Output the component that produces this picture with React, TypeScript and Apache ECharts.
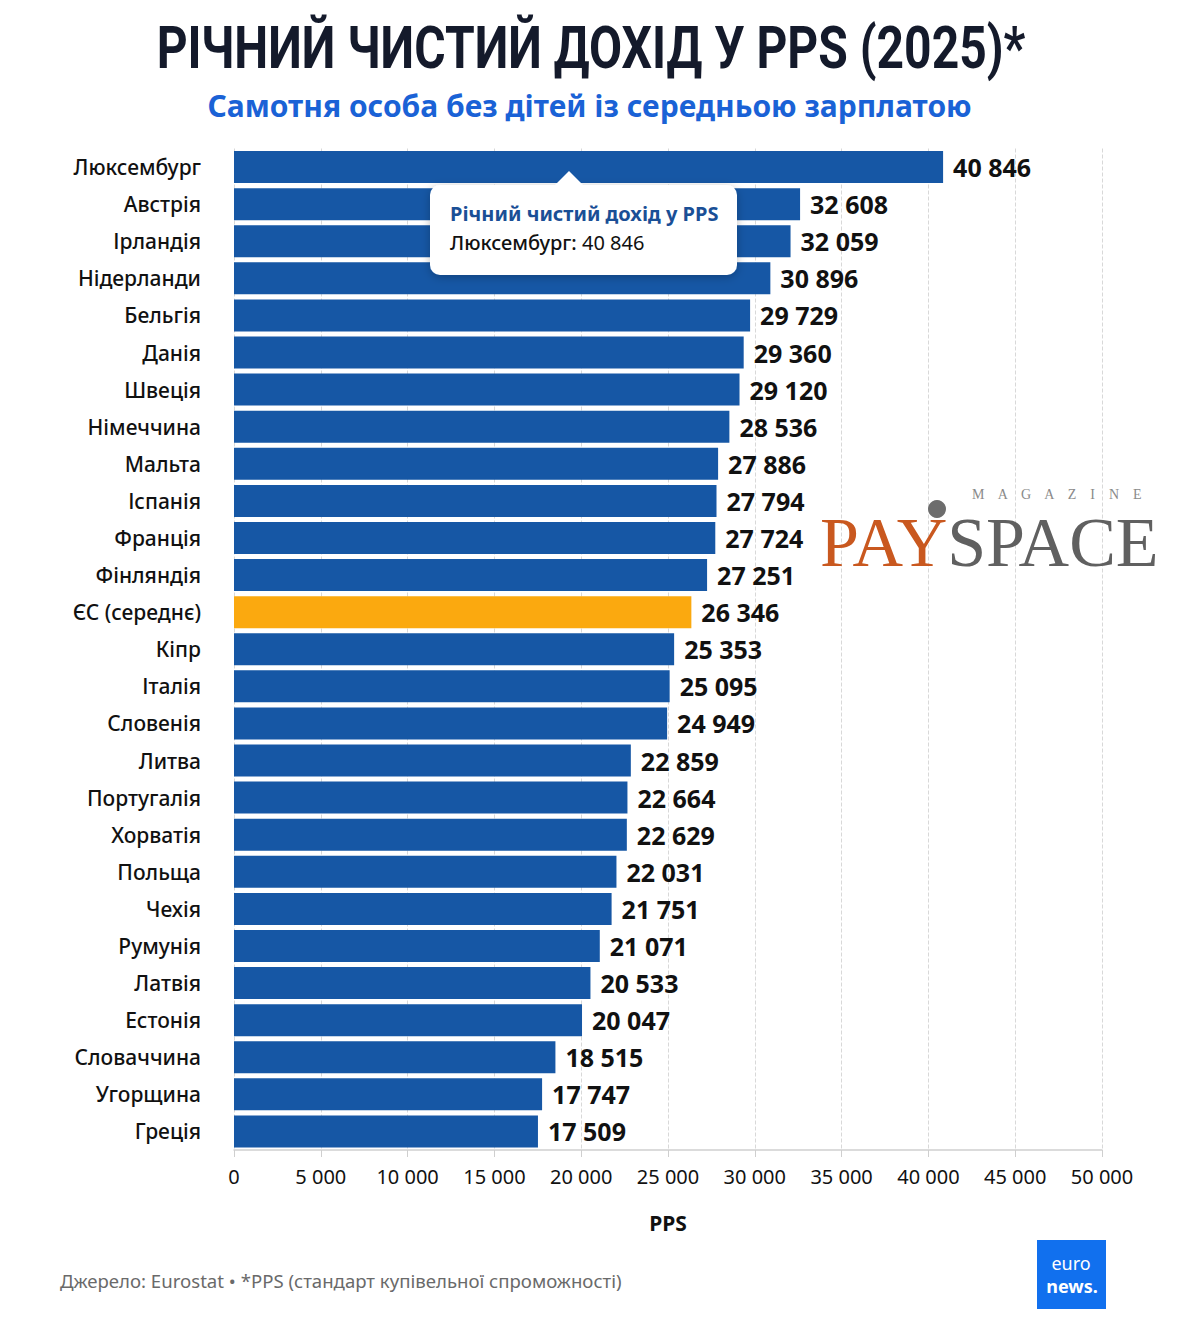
import React, { useEffect, useRef } from "react";
import * as echarts from "echarts";

const countries = [
  "Люксембург", "Австрія", "Ірландія", "Нідерланди", "Бельгія", "Данія", "Швеція",
  "Німеччина", "Мальта", "Іспанія", "Франція", "Фінляндія", "ЄС (середнє)", "Кіпр",
  "Італія", "Словенія", "Литва", "Португалія", "Хорватія", "Польща", "Чехія",
  "Румунія", "Латвія", "Естонія", "Словаччина", "Угорщина", "Греція",
];
const incomePPS = [
  40846, 32608, 32059, 30896, 29729, 29360, 29120, 28536, 27886, 27794, 27724, 27251,
  26346, 25353, 25095, 24949, 22859, 22664, 22629, 22031, 21751, 21071, 20533, 20047,
  18515, 17747, 17509,
];
const highlightCategory = "ЄС (середнє)";
const axisMin = 0;
const axisMax = 50000;
const axisInterval = 5000;

const titleText = "РІЧНИЙ ЧИСТИЙ ДОХІД У PPS (2025)*";
const subtitleText = "Самотня особа без дітей із середньою зарплатою";
const axisName = "PPS";
const footerText = "Джерело: Eurostat • *PPS (стандарт купівельної спроможності)";
const tooltipTitle = "Річний чистий дохід у PPS";

const fmt = (v: number) => String(v).replace(/\B(?=(\d{3})+(?!\d))/g, " ");

export default function App() {
  const ref = useRef<HTMLDivElement>(null);
  useEffect(() => {
    if (!ref.current) return;
    const chart = echarts.init(ref.current, null, { renderer: "svg" });
    const FONT = "'Noto Sans', 'Open Sans', sans-serif";
    const SERIF = "'Liberation Serif', 'DejaVu Serif', serif";
    chart.setOption({
      animation: false,
      backgroundColor: "#ffffff",
      textStyle: { fontFamily: FONT },
      title: [
        {
          text: subtitleText,
          left: "center",
          top: 85,
          textStyle: {
            fontFamily: FONT,
            fontSize: 30,
            fontWeight: "bold",
            color: "#1a62d6",
          },
        },
      ],
      grid: { left: 234, right: 77, top: 148.5, bottom: 184, containLabel: false },
      xAxis: {
        type: "value",
        min: axisMin,
        max: axisMax,
        interval: axisInterval,
        name: axisName,
        nameLocation: "middle",
        nameGap: 62,
        nameTextStyle: { fontSize: 21, fontWeight: "bold", color: "#111", fontFamily: FONT },
        axisLine: { show: true, lineStyle: { color: "#cfcfcf", width: 1.5 } },
        axisTick: { show: true, length: 7, lineStyle: { color: "#cfcfcf" } },
        axisLabel: {
          formatter: (v: number) => fmt(v),
          fontSize: 20,
          color: "#111",
          margin: 16,
          fontFamily: FONT,
        },
        splitLine: { show: true, lineStyle: { color: "#d8d8d8", type: "dashed", width: 1 } },
      },
      yAxis: {
        type: "category",
        data: countries,
        inverse: true,
        axisLine: { show: false },
        axisTick: { show: false },
        axisLabel: { fontSize: 21, color: "#111", margin: 33, fontWeight: 500, fontFamily: FONT },
      },
      series: [
        {
          type: "bar",
          barWidth: 32,
          data: incomePPS.map((v, i) => ({
            value: v,
            itemStyle: { color: countries[i] === highlightCategory ? "#fba90f" : "#1657a5" },
          })),
          label: {
            show: true,
            position: "right",
            distance: 10,
            formatter: (p: any) => fmt(p.value),
            fontSize: 25,
            fontWeight: "bold",
            color: "#111",
            fontFamily: FONT,
          },
        },
      ],
      graphic: [
        // main title (condensed via horizontal scale)
        {
          type: "text",
          x: 591,
          y: 48,
          scaleX: 0.8,
          style: {
            text: titleText,
            fontSize: 60,
            fontWeight: "bold",
            fill: "#141a2b",
            align: "center",
            verticalAlign: "middle",
            fontFamily: "Roboto, 'DejaVu Sans', sans-serif",
          },
        },
        // tooltip box
        {
          type: "rect",
          left: 430,
          top: 185,
          shape: { width: 307, height: 90, r: 10 },
          style: { fill: "#ffffff", shadowBlur: 10, shadowColor: "rgba(0,0,0,0.25)", shadowOffsetY: 2 },
          z: 100,
        },
        {
          type: "polygon",
          shape: { points: [[554, 186], [569, 171], [584, 186]] },
          style: { fill: "#ffffff" },
          z: 101,
        },
        {
          type: "text",
          left: 450,
          top: 203,
          style: { text: tooltipTitle, fontSize: 20, fontWeight: "bold", fill: "#1a4f96", fontFamily: FONT },
          z: 102,
        },
        {
          type: "text",
          left: 450,
          top: 232,
          style: {
            text: "{a|" + countries[0] + ": }{b|" + fmt(incomePPS[0]) + "}",
            rich: {
              a: { fontSize: 20, fontWeight: 500, fill: "#111", fontFamily: FONT },
              b: { fontSize: 20, fontWeight: "normal", fill: "#111", fontFamily: FONT },
            },
          },
          z: 102,
        },
        // PaySpace watermark
        {
          type: "text",
          left: 820,
          top: 507,
          style: {
            text: "{o|PAY}{g|SPACE}",
            rich: {
              o: { fontSize: 70, lineHeight: 50, fill: "#c9581f", fontFamily: SERIF },
              g: { fontSize: 70, lineHeight: 50, fill: "#606060", fontFamily: SERIF },
            },
          },
          z: 50,
        },
        {
          type: "circle",
          shape: { cx: 937, cy: 509, r: 9 },
          style: { fill: "#6d6d6d" },
          z: 51,
        },
        {
          type: "text",
          left: 972,
          top: 487,
          style: {
            text: "M    A    G    A    Z    I    N    E",
            fontSize: 14,
            fill: "#8a8a8a",
            fontFamily: SERIF,
          },
          z: 50,
        },
        // footer
        {
          type: "text",
          left: 60,
          top: 1271,
          style: { text: footerText, fontSize: 18.6, fill: "#6a6a6a", fontFamily: FONT },
        },
        // euronews logo
        {
          type: "rect",
          left: 1037,
          top: 1240,
          shape: { width: 69, height: 69 },
          style: { fill: "#1170ee" },
        },
        {
          type: "text",
          x: 1071,
          y: 1263,
          style: {
            text: "euro",
            fontSize: 18,
            fill: "#ffffff",
            align: "center",
            verticalAlign: "middle",
            fontFamily: FONT,
          },
        },
        {
          type: "text",
          x: 1072,
          y: 1286,
          style: {
            text: "news.",
            fontSize: 18,
            fontWeight: "bold",
            fill: "#ffffff",
            align: "center",
            verticalAlign: "middle",
            fontFamily: FONT,
          },
        },
      ],
    });
    return () => chart.dispose();
  }, []);
  return <div ref={ref} style={{ width: 1179, height: 1334, position: "absolute", left: 0, top: 0 }} />;
}
